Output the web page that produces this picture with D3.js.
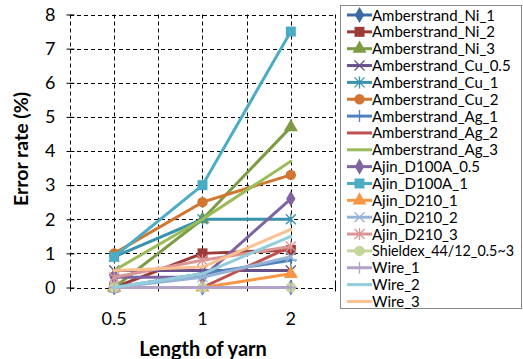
<!DOCTYPE html>
<html>
<head>
<meta charset="utf-8">
<script src="https://cdn.jsdelivr.net/npm/d3@7"></script>
<style>
  body { margin: 0; background: #fff; }
  svg { font-family: "Lato", "Open Sans", sans-serif; }
</style>
</head>
<body>
<script>
// Chart data
var categories = ["0.5", "1", "2"];
var seriesNames = ["Amberstrand_Ni_1", "Amberstrand_Ni_2", "Amberstrand_Ni_3", "Amberstrand_Cu_0.5",
  "Amberstrand_Cu_1", "Amberstrand_Cu_2", "Amberstrand_Ag_1", "Amberstrand_Ag_2", "Amberstrand_Ag_3",
  "Ajin_D100A_0.5", "Ajin_D100A_1", "Ajin_D210_1", "Ajin_D210_2", "Ajin_D210_3",
  "Shieldex_44/12_0.5~3", "Wire_1", "Wire_2", "Wire_3"];
var seriesValues = [
  [0, 0, 0],
  [0, 1.0, 1.1],
  [0, 2.0, 4.7],
  [0.5, 0.5, 0.5],
  [0.9, 2.0, 2.0],
  [1.0, 2.5, 3.3],
  [0, 0.4, 0.8],
  [0, 0, 1.2],
  [0.5, 2.0, 3.7],
  [0.3, 0.3, 2.6],
  [0.9, 3.0, 7.5],
  [0, 0, 0.4],
  [0, 0.3, 0.9],
  [0.3, 0.8, 1.2],
  [0, 0, 0],
  [0, 0, 0],
  [0, 0.4, 1.5],
  [0.5, 0.6, 1.7]
];
var yTicks = [0, 1, 2, 3, 4, 5, 6, 7, 8];

var colors = ["#3C69A3", "#9C3B38", "#7D9B43", "#67518A", "#3A93AC", "#D07631",
  "#4F81BD", "#C0504D", "#9BBB59", "#8064A2", "#4BACC6", "#F79646",
  "#95B3D7", "#D99694", "#C3D69B", "#B3A2C7", "#93CDDD", "#FAC090"];
var markers = ["diamond", "square", "triangle", "x", "star", "circle", "plus", "none", "none",
  "diamond", "square", "triangle", "x", "star", "circle", "plus", "none", "none"];

// SVG area
var svgWidth = 523;
var svgHeight = 359;

var svg = d3.select("body")
            .append("svg")
            .attr("width", svgWidth)
            .attr("height", svgHeight);

// Plot area bounds
var plotLeft = 70, plotRight = 335, plotTop = 14.5, plotBottom = 287.5;

// Scales
var x = d3.scaleBand()
          .domain(categories)
          .range([plotLeft, plotRight]);
var xc = function(c) { return x(c) + x.bandwidth() / 2; };

var y = d3.scaleLinear()
          .domain([0, 8])
          .range([plotBottom, plotTop]);

// Grid lines (dashed)
var grid = svg.append("g")
              .attr("stroke", "#000")
              .attr("stroke-width", 1)
              .attr("stroke-dasharray", "4,3");

var vLines = [];
categories.forEach(function(c) {
  vLines.push(x(c));
  vLines.push(xc(c));
});
vLines.push(plotRight);

grid.selectAll("line.v")
    .data(vLines)
    .enter()
    .append("line")
    .attr("x1", function(d) { return Math.round(d) + 0.5; })
    .attr("x2", function(d) { return Math.round(d) + 0.5; })
    .attr("y1", plotTop)
    .attr("y2", plotBottom);

grid.selectAll("line.h")
    .data(yTicks)
    .enter()
    .append("line")
    .attr("x1", plotLeft)
    .attr("x2", plotRight)
    .attr("y1", function(d) { return Math.round(y(d)) + 0.5; })
    .attr("y2", function(d) { return Math.round(y(d)) + 0.5; });

// Y axis
var yAxis = svg.append("g")
               .attr("transform", "translate(" + (plotLeft + 0.5) + ",0)")
               .call(d3.axisLeft(y).tickValues(yTicks).tickSize(4).tickPadding(11));
yAxis.select(".domain").remove();
yAxis.selectAll(".tick line").attr("x2", 4).attr("x1", -4);
yAxis.selectAll("text")
     .style("font-size", "18px")
     .style("font-family", "Lato, sans-serif")
     .attr("fill", "#000");

// X axis ticks at category boundaries
var xBounds = categories.map(function(c) { return x(c); }).concat([plotRight]);
svg.append("g")
   .selectAll("line")
   .data(xBounds)
   .enter()
   .append("line")
   .attr("x1", function(d) { return Math.round(d) + 0.5; })
   .attr("x2", function(d) { return Math.round(d) + 0.5; })
   .attr("y1", plotBottom - 4)
   .attr("y2", plotBottom + 4)
   .attr("stroke", "#000");

svg.append("g")
   .selectAll("text")
   .data(categories)
   .enter()
   .append("text")
   .attr("x", function(d) { return xc(d); })
   .attr("y", 325)
   .attr("text-anchor", "middle")
   .style("font-size", "18px")
   .text(function(d) { return d; });

// Axis titles
svg.append("text")
   .attr("transform", "translate(28,149) rotate(-90)")
   .attr("text-anchor", "middle")
   .style("font-size", "19.5px")
   .style("font-weight", "bold")
   .text("Error rate (%)");

svg.append("text")
   .attr("x", 203)
   .attr("y", 356)
   .attr("text-anchor", "middle")
   .style("font-size", "20px")
   .style("font-weight", "bold")
   .text("Length of yarn");

// Marker helper
function drawMarker(g, type, color, cx, cy) {
  var s = 5;
  if (type === "none") return;
  if (type === "x" || type === "star" || type === "plus") {
    var d = "";
    if (type === "x" || type === "star") {
      d += "M" + (cx - s) + "," + (cy - s) + "L" + (cx + s) + "," + (cy + s);
      d += "M" + (cx - s) + "," + (cy + s) + "L" + (cx + s) + "," + (cy - s);
    }
    if (type === "star" || type === "plus") {
      d += "M" + cx + "," + (cy - s - 1) + "L" + cx + "," + (cy + s + 1);
    }
    if (type === "plus") {
      d += "M" + (cx - s - 1) + "," + cy + "L" + (cx + s + 1) + "," + cy;
    }
    g.append("path")
     .attr("d", d)
     .attr("stroke", color)
     .attr("stroke-width", 1.3)
     .attr("fill", "none");
    return;
  }
  var sym = { diamond: d3.symbolDiamond, square: d3.symbolSquare,
              triangle: d3.symbolTriangle, circle: d3.symbolCircle }[type];
  var size = { diamond: 75, square: 100, triangle: 85, circle: 85 }[type];
  g.append("path")
   .attr("d", d3.symbol().type(sym).size(size)())
   .attr("transform", "translate(" + cx + "," + cy + ")")
   .attr("fill", color);
}

// Series lines and markers
var line = d3.line()
             .x(function(d, i) { return xc(categories[i]); })
             .y(function(d) { return y(d); });

var seriesGroup = svg.append("g");
seriesValues.forEach(function(vals, si) {
  var g = seriesGroup.append("g");
  g.append("path")
   .attr("d", line(vals))
   .attr("fill", "none")
   .attr("stroke", colors[si])
   .attr("stroke-width", 3)
   .attr("stroke-linejoin", "round")
   .attr("stroke-linecap", "round");
  vals.forEach(function(v, i) {
    drawMarker(g, markers[si], colors[si], xc(categories[i]), y(v));
  });
});

// Legend
var legend = svg.append("g");
legend.append("rect")
      .attr("x", 340.5)
      .attr("y", 5.5)
      .attr("width", 181)
      .attr("height", 303)
      .attr("fill", "#fff")
      .attr("stroke", "#888");

var rows = legend.selectAll("g.row")
                 .data(seriesNames)
                 .enter()
                 .append("g")
                 .attr("transform", function(d, i) { return "translate(0," + (15 + i * 16.85) + ")"; });

rows.each(function(name, i) {
  var r = d3.select(this);
  r.append("line")
   .attr("x1", 347)
   .attr("x2", 372)
   .attr("y1", 0)
   .attr("y2", 0)
   .attr("stroke", colors[i])
   .attr("stroke-width", 3);
  drawMarker(r, markers[i], colors[i], 359.5, 0);
  var t = r.append("text")
           .attr("x", 372)
           .attr("y", 5.5)
           .style("font-size", "15px")
           .text(name);
  // squeeze long labels so they stay inside the legend box
  if (t.node().getComputedTextLength() > 143) {
    t.attr("textLength", 142).attr("lengthAdjust", "spacingAndGlyphs");
  }
});
</script>
</body>
</html>
